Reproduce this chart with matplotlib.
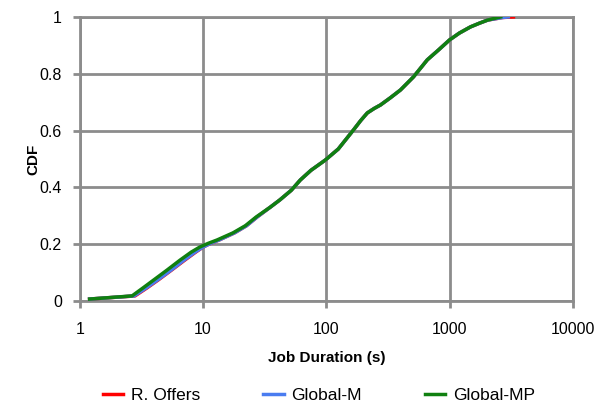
import numpy as np
import matplotlib
matplotlib.use("Agg")
import matplotlib.pyplot as plt
from matplotlib.ticker import FixedLocator, NullLocator, FixedFormatter

plt.rcParams.update({
    "font.family": ["Liberation Sans", "DejaVu Sans"],
    "font.size": 11,
})

# CDF of job durations
dur_mp = [1.2, 2.65, 3.25, 4.0, 5.1, 6.5, 8.0, 9.4, 11, 13, 17.5, 22, 27, 35, 42, 52,
          61.5, 75, 98, 125, 166, 190, 215, 245, 275, 330, 400, 510, 660, 820,
          1000, 1200, 1480, 1750, 2040, 2600]
cdf_mp = [0.007, 0.018, 0.046, 0.075, 0.109, 0.144, 0.172, 0.19, 0.203, 0.215, 0.24,
          0.265, 0.296, 0.33, 0.356, 0.39, 0.426, 0.46, 0.496, 0.535, 0.602, 0.635,
          0.662, 0.678, 0.69, 0.715, 0.743, 0.789, 0.849, 0.885, 0.919, 0.943,
          0.965, 0.978, 0.989, 1.0]

dur_m = [1.2, 2.75, 3.45, 4.3, 5.5, 7.0, 8.6, 10.0, 11.5, 13.5, 18, 22.5, 27.5, 35,
         42, 52, 61.5, 75, 98, 125, 166, 190, 215, 245, 275, 330, 400, 510, 660,
         820, 1000, 1200, 1480, 1750, 2040, 2700, 3000]
cdf_m = [0.007, 0.018, 0.046, 0.075, 0.109, 0.144, 0.172, 0.19, 0.203, 0.215, 0.24,
         0.265, 0.296, 0.33, 0.356, 0.39, 0.426, 0.46, 0.496, 0.535, 0.602, 0.635,
         0.662, 0.678, 0.69, 0.715, 0.743, 0.789, 0.849, 0.885, 0.919, 0.943,
         0.965, 0.978, 0.989, 0.998, 1.0]

dur_ro = [1.2, 2.8, 3.5, 4.35, 5.55, 7.1, 8.7, 10.0, 11.5, 13.5, 18, 22.5, 27.5, 35,
          42, 52, 61.5, 75, 98, 125, 166, 190, 215, 245, 275, 330, 400, 510, 660,
          820, 1000, 1200, 1480, 1750, 2040, 2700, 3300]
cdf_ro = cdf_m

x_ticks = [1, 10, 100, 1000, 10000]
x_labels = ["1", "10", "100", "1000", "10000"]
y_ticks = [0, 0.2, 0.4, 0.6, 0.8, 1]
y_labels = ["0", "0.2", "0.4", "0.6", "0.8", "1"]

GRID = "#8c8c8c"

fig = plt.figure(figsize=(5.96, 4.03), dpi=100)
ax = fig.add_axes([0.134, 0.253, 0.827, 0.705])

ax.plot(dur_ro, cdf_ro, color="#ff0000", lw=2.5, label="R. Offers", zorder=3)
ax.plot(dur_m, cdf_m, color="#4a7cf0", lw=2.5, label="Global-M", zorder=4)
ax.plot(dur_mp, cdf_mp, color="#108010", lw=2.5, label="Global-MP", zorder=5)

ax.set_xscale("log")
ax.set_xlim(1, 10000)
ax.set_ylim(0, 1)
ax.xaxis.set_major_locator(FixedLocator(x_ticks))
ax.xaxis.set_major_formatter(FixedFormatter(x_labels))
ax.xaxis.set_minor_locator(NullLocator())
ax.set_yticks(y_ticks)
ax.set_yticklabels(y_labels)

ax.grid(True, color=GRID, lw=2, zorder=0)
ax.set_axisbelow(True)
for sp in ax.spines.values():
    sp.set_color(GRID)
    sp.set_linewidth(2)
ax.tick_params(axis="both", which="major", color=GRID, width=2, length=5,
               labelsize=11.5, direction="out")
ax.tick_params(axis="x", pad=10)
ax.tick_params(axis="y", pad=8)

ax.set_xlabel("Job Duration (s)", fontweight="bold", fontsize=11, labelpad=10)
ax.set_ylabel("CDF", fontweight="bold", fontsize=11, labelpad=-1)

fig.legend(loc="lower center", bbox_to_anchor=(0.535, -0.04), ncol=3,
           frameon=False, handlelength=1.2, handletextpad=0.45,
           columnspacing=3.6, fontsize=12.5)

fig.savefig("out.png", dpi=100)
